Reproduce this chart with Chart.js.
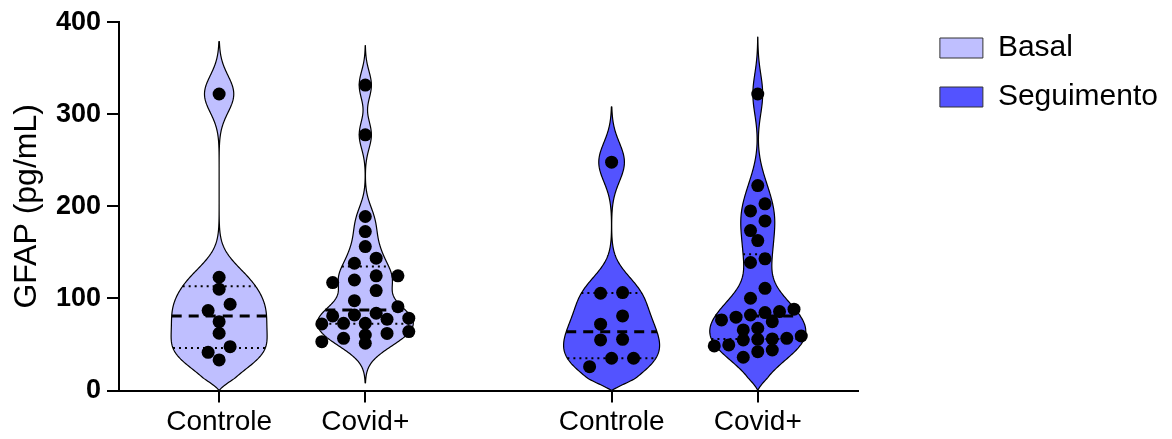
<!DOCTYPE html>
<html>
<head>
<meta charset="utf-8">
<script src="https://cdn.jsdelivr.net/npm/chart.js@4.4.1/dist/chart.umd.min.js"></script>
<style>
  html, body { margin: 0; padding: 0; background: #ffffff; }
  #wrap { width: 1172px; height: 439px; }
</style>
</head>
<body>
<div id="wrap"><canvas id="chart" width="1172" height="439"></canvas></div>
<script>
// GFAP (pg/mL) per participant, grouped by visit and cohort
const categories = ['Controle', 'Covid+', 'Controle', 'Covid+'];
const seriesNames = ['Basal', 'Seguimento'];
const controleBasal = [322, 123, 110, 93.7, 86.8, 74.8, 62.2, 47.6, 41.5, 33.2];
const covidBasal = [331.7, 277.7, 189, 172.6, 156.3, 143.7, 138.2, 124.5, 124.5, 120, 117.2,
  108.5, 97.6, 91, 83.9, 82, 81, 78.5, 77.4, 73, 73, 72.3, 64, 62, 60.3, 56.7, 53, 51.3];
const controleSeguimento = [248, 106.3, 105.6, 81, 72, 55.6, 54.9, 35, 35, 25.9];
const covidSeguimento = [322, 222.6, 202.7, 195, 184.2, 173.7, 162.8, 143, 139, 111, 100.2,
  88.3, 85.7, 84.6, 82, 79.6, 76.6, 74.8, 67.6, 65.8, 59.2, 56.7, 56, 55.6, 54.9, 49.5, 48.4,
  44, 42.2, 36.1];
const yTicks = [0, 100, 200, 300, 400];

// Styling / layout
const FONT = "'Liberation Sans', Arial, Helvetica, sans-serif";
const fills = ['#bfbfff', '#5353ff'];
const GROUP_GAP = 0.685;        // extra space between the Basal and Seguimento blocks (x units)
const VIOLIN_HALF_PX = 48;      // half width of each violin at its widest point
const KDE_SCALE = 0.65;         // fraction of Silverman's bandwidth used for the violins
const WIDTH_POWER = 0.85;       // width ~ density^power
const FLOOR_TAPER = 15;         // violins cut at the axis floor close over this many units
const DOT_RADIUS = 6.5;
const ROW_PX = 11;              // values closer than this (px) share a dot row
const MAX_ROW_SPAN = 87;        // widest dot row spans at most this many px
const MAX_DOT_STEP = 22;
const LEGEND_PAD = 19;
const LEGEND_LIFT = 8;

const groups = [
  { values: controleBasal, series: 0 },
  { values: covidBasal, series: 0 },
  { values: controleSeguimento, series: 1 },
  { values: covidSeguimento, series: 1 }
];

function quantile(sorted, p) {
  const n = sorted.length;
  const pos = (n + 1) * p;
  if (pos <= 1) return sorted[0];
  if (pos >= n) return sorted[n - 1];
  const lo = Math.floor(pos);
  return sorted[lo - 1] + (pos - lo) * (sorted[lo] - sorted[lo - 1]);
}

function describe(values) {
  const s = values.slice().sort((a, b) => a - b);
  const n = s.length;
  const mean = s.reduce((a, b) => a + b, 0) / n;
  const sd = Math.sqrt(s.reduce((a, b) => a + (b - mean) * (b - mean), 0) / (n - 1));
  const q1 = quantile(s, 0.25), q3 = quantile(s, 0.75), median = quantile(s, 0.5);
  const silverman = 0.9 * Math.min(sd, (q3 - q1) / 1.34) * Math.pow(n, -0.2);
  return { min: s[0], max: s[n - 1], q1, q3, median, h: KDE_SCALE * silverman, reach: 2 * silverman };
}

function density(values, h, v) {
  let d = 0;
  for (const x of values) {
    const u = (v - x) / h;
    d += Math.exp(-0.5 * u * u);
  }
  return d;
}

groups.forEach((g, i) => {
  g.pos = 1 + i + GROUP_GAP * g.series;
  g.stats = describe(g.values);
});
const tickPositions = groups.map(g => g.pos);

// Violin bodies plus median (dashed) and quartile (dotted) lines
const violinPlugin = {
  id: 'violins',
  beforeDatasetsDraw(chart) {
    const { ctx, chartArea, scales } = chart;
    const xs = scales.x, ys = scales.y;
    const floor = ys.min;
    ctx.save();
    ctx.beginPath();
    ctx.rect(chartArea.left, chartArea.top, chartArea.right - chartArea.left, chartArea.bottom - chartArea.top);
    ctx.clip();
    groups.forEach(g => {
      const st = g.stats;
      const cx = xs.getPixelForValue(g.pos);
      const cut = st.min - st.reach < floor;
      const lo = Math.max(floor, st.min - st.reach), hi = st.max + st.reach;
      const N = 300;
      const samples = [];
      for (let i = 0; i <= N; i++) {
        const v = lo + (hi - lo) * i / N;
        samples.push({ v, d: density(g.values, st.h, v) });
      }
      const dmax = Math.max(...samples.map(s => s.d));
      const halfAt = (d, v) => {
        let w = Math.pow(d / dmax, WIDTH_POWER) * VIOLIN_HALF_PX;
        if (cut) {
          const t = Math.min(1, (v - floor) / FLOOR_TAPER);
          w *= 1 - (1 - t) * (1 - t);
        }
        return w;
      };

      ctx.beginPath();
      samples.forEach((s, i) => {
        const px = cx + halfAt(s.d, s.v), py = ys.getPixelForValue(s.v);
        if (i === 0) ctx.moveTo(px, py); else ctx.lineTo(px, py);
      });
      for (let i = N; i >= 0; i--) {
        const s = samples[i];
        ctx.lineTo(cx - halfAt(s.d, s.v), ys.getPixelForValue(s.v));
      }
      ctx.closePath();
      ctx.fillStyle = fills[g.series];
      ctx.fill();
      ctx.lineWidth = 1.2;
      ctx.strokeStyle = '#000';
      ctx.lineJoin = 'round';
      ctx.stroke();

      const level = (v, dash, width) => {
        const w = halfAt(density(g.values, st.h, v), v);
        const py = ys.getPixelForValue(v);
        ctx.beginPath();
        ctx.setLineDash(dash);
        ctx.lineWidth = width;
        ctx.moveTo(cx - w, py);
        ctx.lineTo(cx + w, py);
        ctx.stroke();
        ctx.setLineDash([]);
      };
      level(st.q1, [2, 4], 2);
      level(st.q3, [2, 4], 2);
      level(st.median, [10, 7], 3);
    });
    ctx.restore();
  }
};

// Lift the legend block slightly above the top of the plot area
const legendLift = {
  id: 'legendLift',
  afterLayout(chart) {
    if (chart.legend) {
      chart.legend.top -= LEGEND_LIFT;
      chart.legend.bottom -= LEGEND_LIFT;
    }
  }
};

const chart = new Chart(document.getElementById('chart'), {
  type: 'scatter',
  data: {
    datasets: groups.map((g, i) => ({
      label: categories[i],
      data: g.values.map(v => ({ x: g.pos, y: v })),
      pointRadius: DOT_RADIUS,
      pointHoverRadius: DOT_RADIUS,
      backgroundColor: '#000',
      borderColor: '#000',
      borderWidth: 0
    }))
  },
  options: {
    responsive: false,
    animation: false,
    events: [],
    layout: { padding: { top: 22, right: 4, bottom: 0, left: 0 } },
    plugins: {
      tooltip: { enabled: false },
      legend: {
        position: 'right',
        align: 'start',
        maxWidth: 400,
        onClick: null,
        labels: {
          boxWidth: 43,
          boxHeight: 20,
          padding: LEGEND_PAD,
          color: '#000',
          font: { family: FONT, size: 30 },
          generateLabels: () => seriesNames.map((name, i) => ({
            text: name,
            fillStyle: fills[i],
            strokeStyle: '#333',
            lineWidth: 1,
            hidden: false,
            fontColor: '#000'
          }))
        }
      }
    },
    scales: {
      x: {
        type: 'linear',
        min: 0.315,
        max: 5.37,
        afterBuildTicks: s => { s.ticks = tickPositions.map(v => ({ value: v })); },
        afterFit: s => { s.height = 48.5; },
        grid: { display: true, drawOnChartArea: false, drawTicks: true, tickLength: 12, color: '#000', lineWidth: 2 },
        border: { display: true, color: '#000', width: 2 },
        ticks: {
          autoSkip: false,
          maxRotation: 0,
          padding: 3,
          color: '#000',
          font: { family: FONT, size: 28 },
          callback: (value, index) => categories[index]
        }
      },
      y: {
        min: 0,
        max: 400,
        afterBuildTicks: s => { s.ticks = yTicks.map(v => ({ value: v })); },
        afterFit: s => { s.width = 119; },
        grid: { display: true, drawOnChartArea: false, drawTicks: true, tickLength: 12, color: '#000', lineWidth: 2 },
        border: { display: true, color: '#000', width: 2 },
        ticks: {
          padding: 6,
          color: '#000',
          font: { family: FONT, size: 27, weight: 'bold' }
        },
        title: {
          display: true,
          text: 'GFAP (pg/mL)',
          color: '#000',
          font: { family: FONT, size: 32 },
          padding: { top: 8, bottom: 0 }
        }
      },
      gap: {
        type: 'linear',
        position: 'right',
        display: true,
        afterFit: s => { s.width = 82 - LEGEND_PAD; },
        grid: { display: false, drawTicks: false },
        border: { display: false },
        ticks: { display: false }
      }
    }
  },
  plugins: [violinPlugin, legendLift]
});

// Spread the dots of each group into horizontal rows (scatter-dot layout)
function layoutDots() {
  const xs = chart.scales.x, ys = chart.scales.y;
  const unitPx = xs.getPixelForValue(1) - xs.getPixelForValue(0);
  groups.forEach((g, gi) => {
    const desc = g.values.slice().sort((a, b) => b - a);
    const rows = [];
    let row = null;
    desc.forEach(v => {
      const py = ys.getPixelForValue(v);
      if (row && py - row.top < ROW_PX) row.items.push(v);
      else { row = { top: py, items: [v] }; rows.push(row); }
    });
    const widest = Math.max(...rows.map(r => r.items.length));
    const step = widest > 1 ? Math.min(MAX_DOT_STEP, MAX_ROW_SPAN / (widest - 1)) : MAX_DOT_STEP;
    const pts = [];
    rows.forEach(r => {
      const k = r.items.length;
      r.items.slice().sort((a, b) => a - b).forEach((v, j) => {
        pts.push({ x: g.pos + (j - (k - 1) / 2) * step / unitPx, y: v });
      });
    });
    chart.data.datasets[gi].data = pts;
  });
  chart.update('none');
}
layoutDots();
</script>
</body>
</html>
